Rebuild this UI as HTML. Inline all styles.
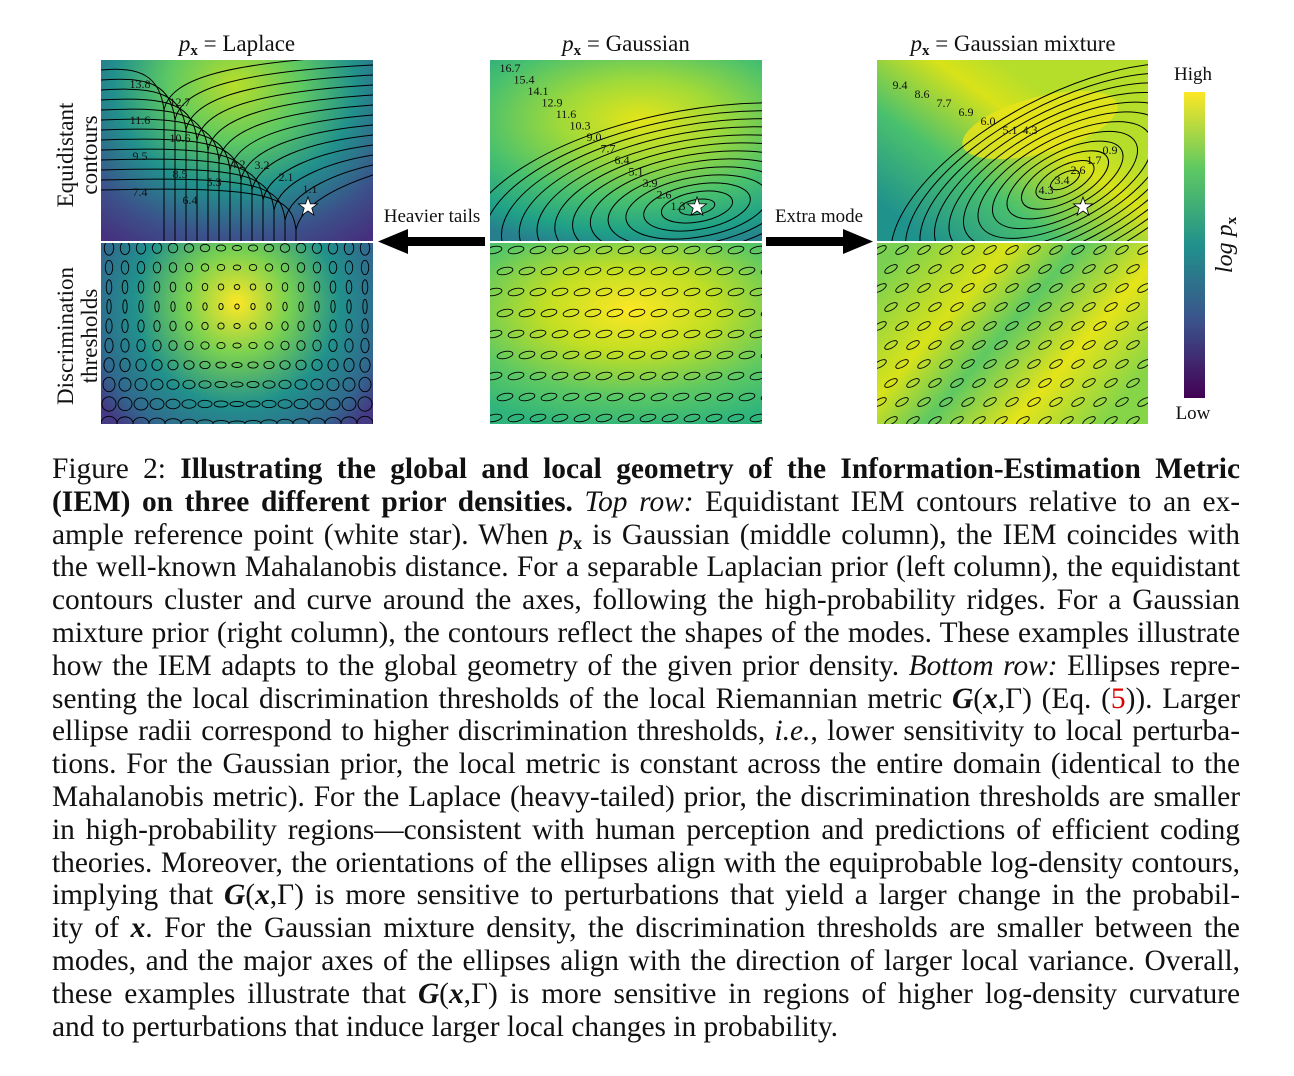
<!DOCTYPE html>
<html><head><meta charset="utf-8">
<style>
body{margin:0;width:1294px;height:1076px;background:#fff;overflow:hidden;font-family:"Liberation Serif",serif;}
#fig{position:absolute;left:0;top:0;}
#cap{position:absolute;left:52px;top:453px;width:1188px;font-size:29.4px;line-height:32.8px;color:#111;}
#cap div{text-align:justify;text-align-last:justify;white-space:nowrap;height:32.8px;}
#cap div.last{text-align-last:left;}
#cap sub{font-size:18px;line-height:0;vertical-align:-5px;}
.red{color:#d00;}
</style></head><body>
<svg id="fig" width="1294" height="440">
<defs>
<linearGradient id="cbar" x1="0" y1="1" x2="0" y2="0">
<stop offset="0" stop-color="#440154"/><stop offset=".25" stop-color="#3b528b"/><stop offset=".5" stop-color="#21918c"/><stop offset=".75" stop-color="#5ec962"/><stop offset="1" stop-color="#fde725"/></linearGradient>
<radialGradient id="lapTop" gradientUnits="userSpaceOnUse" cx="235" cy="85" r="200" gradientTransform="translate(235 85) scale(1.1 0.95) translate(-235 -85)">
<stop offset="0" stop-color="#b8de29"/><stop offset=".3" stop-color="#5ec962"/><stop offset=".55" stop-color="#21918c"/><stop offset=".8" stop-color="#3b528b"/><stop offset="1" stop-color="#46307e"/></radialGradient>
<radialGradient id="lapBot" gradientUnits="userSpaceOnUse" cx="237" cy="303" r="170">
<stop offset="0" stop-color="#fde725"/><stop offset=".3" stop-color="#7ad151"/><stop offset=".6" stop-color="#21918c"/><stop offset=".85" stop-color="#31688e"/><stop offset="1" stop-color="#443983"/></radialGradient>
<radialGradient id="gauTop" gradientUnits="userSpaceOnUse" cx="640" cy="120" r="220" gradientTransform="translate(640 120) scale(1.2 0.6) translate(-640 -120)">
<stop offset="0" stop-color="#e5e419"/><stop offset=".3" stop-color="#a0da39"/><stop offset=".6" stop-color="#4ac16d"/><stop offset=".85" stop-color="#1fa187"/><stop offset="1" stop-color="#277f8e"/></radialGradient>
<radialGradient id="gauBot" gradientUnits="userSpaceOnUse" cx="630" cy="310" r="200" gradientTransform="translate(630 310) scale(1.2 0.6) translate(-630 -310)">
<stop offset="0" stop-color="#fde725"/><stop offset=".35" stop-color="#c2df23"/><stop offset=".7" stop-color="#5ec962"/><stop offset="1" stop-color="#2fb47c"/></radialGradient>
<linearGradient id="gmTop" gradientUnits="userSpaceOnUse" x1="930" y1="240" x2="1040" y2="90">
<stop offset="0" stop-color="#20928c"/><stop offset=".4" stop-color="#4ac16d"/><stop offset=".8" stop-color="#d8e219"/><stop offset="1" stop-color="#b5de2b"/></linearGradient>
<linearGradient id="gmBot" gradientUnits="userSpaceOnUse" x1="900" y1="250" x2="1100" y2="424">
<stop offset="0" stop-color="#7ad151"/><stop offset=".3" stop-color="#d8e219"/><stop offset=".5" stop-color="#5ec962"/><stop offset=".75" stop-color="#e5e419"/><stop offset="1" stop-color="#86d549"/></linearGradient>
<clipPath id="c1t"><rect x="101" y="60" width="272" height="181"/></clipPath>
<clipPath id="c1b"><rect x="101" y="243" width="272" height="181"/></clipPath>
<clipPath id="c2t"><rect x="490" y="60" width="272" height="181"/></clipPath>
<clipPath id="c2b"><rect x="490" y="243" width="272" height="181"/></clipPath>
<clipPath id="c3t"><rect x="877" y="60" width="271" height="181"/></clipPath>
<clipPath id="c3b"><rect x="877" y="243" width="271" height="181"/></clipPath>
</defs>
<g font-family="Liberation Serif, serif" font-size="23" fill="#111">
<text x="237" y="51" text-anchor="middle"><tspan font-style="italic">p</tspan><tspan font-size="15" dy="4" font-weight="bold">x</tspan><tspan dy="-4"> = Laplace</tspan></text>
<text x="626" y="51" text-anchor="middle"><tspan font-style="italic">p</tspan><tspan font-size="15" dy="4" font-weight="bold">x</tspan><tspan dy="-4"> = Gaussian</tspan></text>
<text x="1013" y="51" text-anchor="middle"><tspan font-style="italic">p</tspan><tspan font-size="15" dy="4" font-weight="bold">x</tspan><tspan dy="-4"> = Gaussian mixture</tspan></text>
<text transform="translate(73 155) rotate(-90)" text-anchor="middle">Equidistant</text>
<text transform="translate(97 155) rotate(-90)" text-anchor="middle">contours</text>
<text transform="translate(73 336) rotate(-90)" text-anchor="middle">Discrimination</text>
<text transform="translate(97 336) rotate(-90)" text-anchor="middle">thresholds</text>
<text x="432" y="222" font-size="19" text-anchor="middle">Heavier tails</text>
<text x="819" y="222" font-size="19" text-anchor="middle">Extra mode</text>
<text x="1193" y="80" font-size="19" text-anchor="middle">High</text>
<text x="1193" y="419" font-size="19" text-anchor="middle">Low</text>
<text transform="translate(1232 245) rotate(-90)" text-anchor="middle" font-size="24"><tspan font-style="italic">log p</tspan><tspan font-size="15" font-weight="bold" dy="4">x</tspan></text>
</g>
<rect x="1184" y="92" width="21" height="306" fill="url(#cbar)"/>
<g><rect x="405" y="237" width="80" height="9" fill="#000"/><polygon points="378,241.5 408,229 408,254" fill="#000"/></g>
<g><rect x="766" y="237" width="80" height="9" fill="#000"/><polygon points="873,241.5 843,229 843,254" fill="#000"/></g>
<g id="p1t" clip-path="url(#c1t)"><rect x="101" y="60" width="272" height="181" fill="url(#lapTop)"/></g>
<g id="p1b" clip-path="url(#c1b)"><rect x="101" y="243" width="272" height="181" fill="url(#lapBot)"/></g>
<g id="p2t" clip-path="url(#c2t)"><rect x="490" y="60" width="272" height="181" fill="url(#gauTop)"/></g>
<g id="p2b" clip-path="url(#c2b)"><rect x="490" y="243" width="272" height="181" fill="url(#gauBot)"/></g>
<g id="p3t" clip-path="url(#c3t)"><rect x="877" y="60" width="271" height="181" fill="url(#gmTop)"/>
<ellipse cx="1040" cy="125" rx="80" ry="28" fill="#e8e419" opacity=".8" transform="rotate(-15 1040 125)"/></g>
<g id="p3b" clip-path="url(#c3b)"><rect x="877" y="243" width="271" height="181" fill="url(#gmBot)"/></g>
</svg>
<div id="cap">
<div>Figure 2: <b>Illustrating the global and local geometry of the Information-Estimation Metric</b></div>
<div><b>(IEM) on three different prior densities.</b> <i>Top row:</i> Equidistant IEM contours relative to an ex-</div>
<div>ample reference point (white star). When <i>p</i><sub><b>x</b></sub> is Gaussian (middle column), the IEM coincides with</div>
<div>the well-known Mahalanobis distance. For a separable Laplacian prior (left column), the equidistant</div>
<div>contours cluster and curve around the axes, following the high-probability ridges. For a Gaussian</div>
<div>mixture prior (right column), the contours reflect the shapes of the modes. These examples illustrate</div>
<div>how the IEM adapts to the global geometry of the given prior density. <i>Bottom row:</i> Ellipses repre-</div>
<div>senting the local discrimination thresholds of the local Riemannian metric <b><i>G</i></b>(<b><i>x</i></b>,Γ) (Eq. (<span class="red">5</span>)). Larger</div>
<div>ellipse radii correspond to higher discrimination thresholds, <i>i.e.</i>, lower sensitivity to local perturba-</div>
<div>tions. For the Gaussian prior, the local metric is constant across the entire domain (identical to the</div>
<div>Mahalanobis metric). For the Laplace (heavy-tailed) prior, the discrimination thresholds are smaller</div>
<div>in high-probability regions—consistent with human perception and predictions of efficient coding</div>
<div>theories. Moreover, the orientations of the ellipses align with the equiprobable log-density contours,</div>
<div>implying that <b><i>G</i></b>(<b><i>x</i></b>,Γ) is more sensitive to perturbations that yield a larger change in the probabil-</div>
<div>ity of <b><i>x</i></b>. For the Gaussian mixture density, the discrimination thresholds are smaller between the</div>
<div>modes, and the major axes of the ellipses align with the direction of larger local variance. Overall,</div>
<div>these examples illustrate that <b><i>G</i></b>(<b><i>x</i></b>,Γ) is more sensitive in regions of higher log-density curvature</div>
<div class="last">and to perturbations that induce larger local changes in probability.</div>
</div>
<script>
const NS='http://www.w3.org/2000/svg';
const lapLabels=['13.8','12.7','11.6','10.6','9.5','8.5','7.4','6.4','5.3','4.2','3.2','2.1','1.1'];
const gauLabels=['16.7','15.4','14.1','12.9','11.6','10.3','9.0','7.7','6.4','5.1','3.9','2.6','1.3'];
const mixLabels=['9.4','8.6','7.7','6.9','6.0','5.1','4.3','4.3','3.4','2.6','1.7','0.9'];
function mk(tag,attrs,parent){const e=document.createElementNS(NS,tag);for(const k in attrs)e.setAttribute(k,attrs[k]);parent.appendChild(e);return e;}
function star(g,cx,cy){const pts=[];for(let i=0;i<10;i++){const r=i%2?4:10;const a=-Math.PI/2+i*Math.PI/5;pts.push((cx+r*Math.cos(a)).toFixed(1)+','+(cy+r*Math.sin(a)).toFixed(1));}
const s=mk('polygon',{points:pts.join(' '),fill:'#fff',stroke:'#000','stroke-width':'0.8'},g);

}
function label(g,x,y,t){const tx=mk('text',{x:x,y:y+4,'font-size':'12','text-anchor':'middle','font-family':'Liberation Serif, serif',fill:'#111'},g);tx.textContent=t;

}
(function(){const g=document.getElementById('p1t');
for(let i=0;i<13;i++){const y=70+i*10;const x=160+i*11;
mk('path',{d:`M101 ${y} C ${x-20} ${y-4}, ${x} ${y+6}, ${x+4} ${y+40} L ${x+4} 245`,fill:'none',stroke:'#000','stroke-width':'1'},g);
mk('path',{d:`M ${x+4} ${y+40} C ${x+10} ${y+10}, ${x+60} ${y-8}, 373 ${y-15}`,fill:'none',stroke:'#000','stroke-width':'1'},g);}
lapLabels.forEach((t,i)=>{const x=i<7?140+(i%2)*40:190+(i-7)*24;const y=i<7?84+i*18:i<10?200-(i-7)*18:165+(i-10)*12;label(g,x,y,t);});
star(g,308,207);})();
(function(){const g=document.getElementById('p2t');
for(let i=1;i<=13;i++){mk('ellipse',{cx:697,cy:207,rx:i*18,ry:i*7.5,transform:'rotate(-10 697 207)',fill:'none',stroke:'#000','stroke-width':'1'},g);}
gauLabels.forEach((t,i)=>{const x=510+i*14;const y=68+i*11.5;label(g,x,y,t);});
star(g,697,207);})();
(function(){const g=document.getElementById('p3t');
for(let i=1;i<=12;i++){mk('ellipse',{cx:1065,cy:180,rx:i*16,ry:i*7,transform:'rotate(-28 1065 180)',fill:'none',stroke:'#000','stroke-width':'1'},g);}
mixLabels.forEach((t,i)=>{const x=i<6?900+i*22:1030+(i-6)*16;const y=i<6?85+i*9:i===6?130:190-(i-7)*10;label(g,x,y,t);});
star(g,1083,207);})();
(function(){const g=document.getElementById('p1b');
for(let r=0;r<10;r++)for(let c=0;c<17;c++){const x=109+c*16,y=248+r*19.5;const dx=Math.abs(x-237)/136,dy=Math.abs(y-303)/121;
mk('ellipse',{cx:x,cy:y,rx:2+dy*6,ry:2.5+dx*5,fill:'none',stroke:'#000','stroke-width':'0.9'},g);}})();
(function(){const g=document.getElementById('p2b');
for(let r=0;r<9;r++)for(let c=0;c<13;c++){const x=494+c*22+(r%2)*11,y=250+r*21;
mk('ellipse',{cx:x,cy:y,rx:8,ry:3.5,transform:`rotate(-12 ${x} ${y})`,fill:'none',stroke:'#000','stroke-width':'0.9'},g);}})();
(function(){const g=document.getElementById('p3b');
for(let r=0;r<10;r++)for(let c=0;c<13;c++){const x=880+c*22+(r%2)*11,y=250+r*19;
mk('ellipse',{cx:x,cy:y,rx:7,ry:3,transform:`rotate(-30 ${x} ${y})`,fill:'none',stroke:'#000','stroke-width':'0.9'},g);}})();
</script>
</body></html>
